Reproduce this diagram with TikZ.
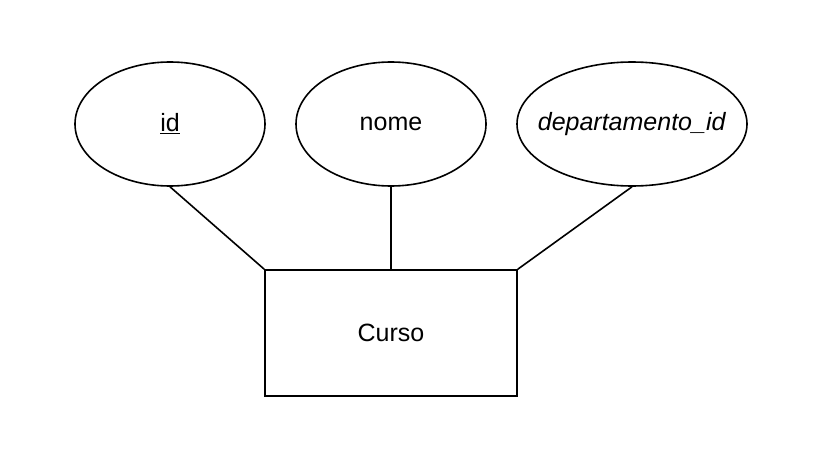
\documentclass[tikz,border=0pt]{standalone}
\usepackage{fontspec}
\setmainfont{Liberation Sans}
\usetikzlibrary{shapes.geometric}

\tikzset{
  atributo/.style={draw, ellipse, line width=1.6pt, minimum height=124pt, font=\fontsize{25}{30}\selectfont},
  entidade/.style={draw, rectangle, line width=1.6pt, minimum width=252pt, minimum height=126pt, font=\fontsize{25}{30}\selectfont},
  ligacao/.style={line width=1.6pt}
}

\begin{document}
\begin{tikzpicture}[x=1pt,y=-1pt]
    \useasboundingbox (0,0) rectangle (813,452);
    % entidade
    \node[entidade] (curso) at (391,333) {Curso};
    % atributos
    \node[atributo, minimum width=190pt] (id) at (170,124) {\underline{id}};
    \node[atributo, minimum width=190pt] (nome) at (391,124) {nome};
    \node[atributo, minimum width=230pt] (depto) at (632,124) {\makebox[0pt]{\textit{departamento\_id}}};
    % ligacoes
    \draw[ligacao] (id.south) -- (curso.north west);
    \draw[ligacao] (nome.south) -- (curso.north);
    \draw[ligacao] (depto.south) -- (curso.north east);
\end{tikzpicture}
\end{document}
